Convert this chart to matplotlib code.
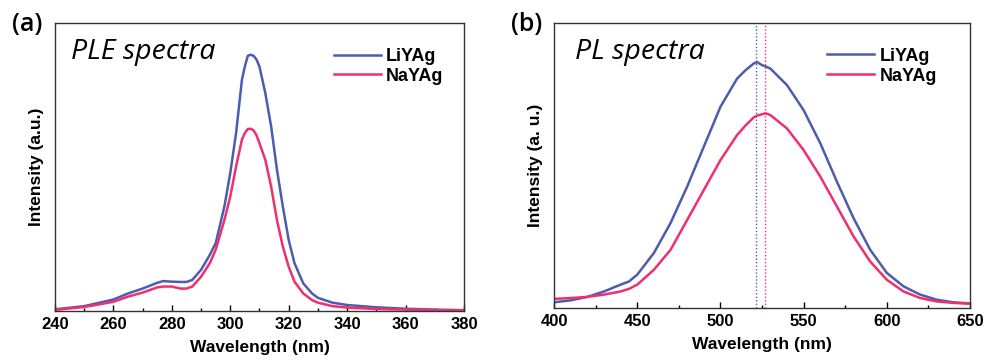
import matplotlib
matplotlib.use("Agg")
import matplotlib.pyplot as plt
from matplotlib.ticker import MultipleLocator

# ---- Panel (a): PLE spectra ----
ple_wl = [240, 250, 260, 265, 270, 275, 277, 280, 283, 285, 287, 290, 293, 295, 298,
          300, 302, 304, 305, 306, 307, 308, 309, 310, 312, 314, 316, 318, 320, 322,
          325, 328, 330, 335, 340, 350, 360, 370, 380]
ple_li = [0.006, 0.017, 0.040, 0.061, 0.078, 0.098, 0.104, 0.102, 0.101, 0.101, 0.108, 0.143, 0.195, 0.235, 0.363,
          0.479, 0.618, 0.803, 0.849, 0.886, 0.890, 0.886, 0.873, 0.849, 0.757, 0.641, 0.490, 0.363, 0.247, 0.166,
          0.096, 0.061, 0.046, 0.029, 0.021, 0.013, 0.008, 0.005, 0.003]
ple_na = [0.004, 0.014, 0.032, 0.050, 0.064, 0.082, 0.085, 0.085, 0.078, 0.078, 0.085, 0.119, 0.166, 0.212, 0.316,
          0.397, 0.502, 0.595, 0.618, 0.632, 0.633, 0.627, 0.610, 0.583, 0.525, 0.432, 0.316, 0.224, 0.154, 0.102,
          0.061, 0.038, 0.029, 0.017, 0.012, 0.007, 0.005, 0.003, 0.002]

# ---- Panel (b): PL spectra ----
pl_wl = [400, 410, 420, 430, 440, 445, 450, 460, 470, 480, 490, 500, 510, 515, 520, 522,
         525, 527, 530, 540, 550, 560, 570, 580, 590, 600, 610, 620, 630, 640, 650]
pl_li = [0.020, 0.027, 0.039, 0.058, 0.082, 0.093, 0.117, 0.193, 0.298, 0.426, 0.566, 0.706, 0.805, 0.834, 0.858, 0.863,
         0.852, 0.848, 0.840, 0.782, 0.694, 0.578, 0.443, 0.315, 0.204, 0.123, 0.076, 0.047, 0.029, 0.020, 0.016]
pl_na = [0.032, 0.035, 0.039, 0.047, 0.058, 0.067, 0.082, 0.134, 0.204, 0.309, 0.414, 0.519, 0.607, 0.640, 0.669, 0.675,
         0.680, 0.683, 0.677, 0.630, 0.554, 0.461, 0.356, 0.251, 0.163, 0.099, 0.058, 0.035, 0.023, 0.018, 0.015]
pl_peaks = [521.4, 526.8]

labels = ["LiYAg", "NaYAg"]
BLUE = "#4d5cae"
RED = "#f0306e"

plt.rcParams['font.family'] = ['Liberation Sans', 'DejaVu Sans']

fig = plt.figure(figsize=(9.92, 3.6), dpi=100)
axa = fig.add_axes([0.0554, 0.136, 0.4123, 0.800])
axb = fig.add_axes([0.5585, 0.1444, 0.4194, 0.7917])


def style(ax, xmin, xmax, major, minor):
    ax.set_xlim(xmin, xmax)
    ax.set_ylim(0, 1)
    ax.xaxis.set_major_locator(MultipleLocator(major))
    ax.xaxis.set_minor_locator(MultipleLocator(minor))
    ax.tick_params(axis='x', which='both', direction='in', top=False, labelsize=12, pad=4)
    ax.tick_params(axis='x', which='major', length=4, width=1)
    ax.tick_params(axis='x', which='minor', length=2.5, width=1)
    ax.set_yticks([])
    for lab in ax.get_xticklabels():
        lab.set_fontweight('bold')
    for s in ax.spines.values():
        s.set_linewidth(1.0)
        s.set_color('#333333')
    ax.set_xlabel("Wavelength (nm)", fontsize=12.5, fontweight='bold', labelpad=6)


# Panel a
axa.plot(ple_wl, ple_li, color=BLUE, lw=1.8, label=labels[0])
axa.plot(ple_wl, ple_na, color=RED, lw=1.8, label=labels[1])
style(axa, 240, 380, 20, 10)
axa.set_ylabel("Intensity (a.u.)", fontsize=12.5, fontweight='bold', labelpad=8)
axa.text(0.04, 0.9, "PLE spectra", transform=axa.transAxes, fontsize=20.5,
         style='italic', family=['Open Sans', 'DejaVu Sans'], va='center')
axa.legend(loc='upper right', bbox_to_anchor=(0.99, 0.97), frameon=False,
           prop={'weight': 'bold', 'size': 13}, handlelength=2.6, handletextpad=0.3,
           labelspacing=0.15)
fig.text(0.012, 0.915, "(a)", fontsize=18, fontweight='semibold',
         family=['Open Sans', 'DejaVu Sans'])

# Panel b
axb.plot(pl_wl, pl_li, color=BLUE, lw=1.8, label=labels[0])
axb.plot(pl_wl, pl_na, color=RED, lw=1.8, label=labels[1])
axb.axvline(pl_peaks[0], color=BLUE, lw=1.0, ls=(0, (1, 1.5)))
axb.axvline(pl_peaks[1], color=RED, lw=1.0, ls=(0, (1, 1.5)))
style(axb, 400, 650, 50, 25)
axb.set_ylabel("Intensity (a. u.)", fontsize=12.5, fontweight='bold', labelpad=8)
axb.text(0.05, 0.9, "PL spectra", transform=axb.transAxes, fontsize=20.5,
         style='italic', family=['Open Sans', 'DejaVu Sans'], va='center')
axb.legend(loc='upper right', bbox_to_anchor=(0.96, 0.97), frameon=False,
           prop={'weight': 'bold', 'size': 13}, handlelength=2.6, handletextpad=0.3,
           labelspacing=0.15)
fig.text(0.515, 0.915, "(b)", fontsize=18, fontweight='semibold',
         family=['Open Sans', 'DejaVu Sans'])

fig.savefig("out.png", dpi=100)
